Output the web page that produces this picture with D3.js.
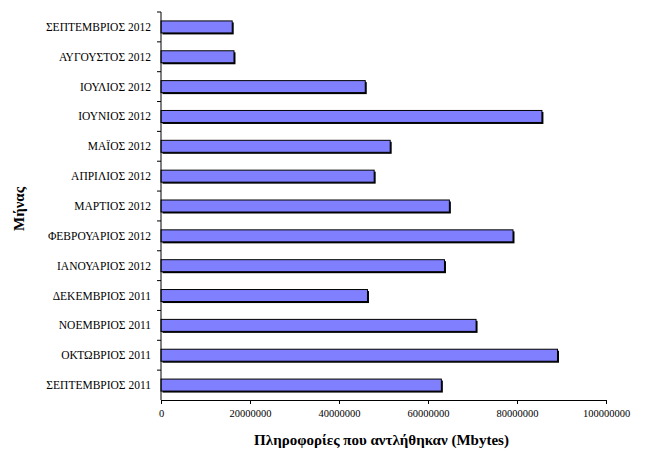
<!DOCTYPE html>
<html>
<head>
<meta charset="utf-8">
<script src="https://cdn.jsdelivr.net/npm/d3@7"></script>
<style>
  body { margin: 0; background: #fff; }
  svg text { font-family: "Liberation Serif", "DejaVu Serif", serif; }
</style>
</head>
<body>
<svg id="chart" width="650" height="475"></svg>
<script>
// months from bottom to top of the chart
const months = [
  "ΣΕΠΤΕΜΒΡΙΟΣ 2011", "ΟΚΤΩΒΡΙΟΣ 2011", "ΝΟΕΜΒΡΙΟΣ 2011", "ΔΕΚΕΜΒΡΙΟΣ 2011",
  "ΙΑΝΟΥΑΡΙΟΣ 2012", "ΦΕΒΡΟΥΑΡΙΟΣ 2012", "ΜΑΡΤΙΟΣ 2012", "ΑΠΡΙΛΙΟΣ 2012",
  "ΜΑΪΟΣ 2012", "ΙΟΥΝΙΟΣ 2012", "ΙΟΥΛΙΟΣ 2012", "ΑΥΓΟΥΣΤΟΣ 2012", "ΣΕΠΤΕΜΒΡΙΟΣ 2012"
];
const mbytes = [
  63000000, 89100000, 70800000, 46400000,
  63700000, 79100000, 64800000, 47900000,
  51500000, 85600000, 45900000, 16400000, 16000000
];
const xTicks = [0, 20000000, 40000000, 60000000, 80000000, 100000000];

const serif = "'Liberation Serif', 'DejaVu Serif', serif";
const svg = d3.select("svg#chart");
const margins = { top: 12, right: 44, bottom: 75, left: 161 };
const chartWidth = 650 - margins.left - margins.right;
const chartHeight = 475 - margins.top - margins.bottom;

const data = months.map((m, i) => ({ month: m, value: mbytes[i] }));

let xScale = d3.scaleLinear().domain([0, 100000000]).range([0, chartWidth]);
let yScale = d3.scaleBand().domain(months).range([chartHeight, 0]);

let chart = svg.append("g").attr("transform", `translate(${margins.left},${margins.top})`);

const barH = 12;
// shadow behind each bar
chart.selectAll("rect.shadow").data(data).enter().append("rect")
  .attr("class", "shadow")
  .attr("x", 1.5)
  .attr("y", d => yScale(d.month) + (yScale.bandwidth() - barH) / 2 + 1.5)
  .attr("width", d => xScale(d.value))
  .attr("height", barH)
  .attr("fill", "#000");

chart.selectAll("rect.bar").data(data).enter().append("rect")
  .attr("class", "bar")
  .attr("x", 0)
  .attr("y", d => yScale(d.month) + (yScale.bandwidth() - barH) / 2)
  .attr("width", d => xScale(d.value))
  .attr("height", barH)
  .attr("fill", "#8080ff")
  .attr("stroke", "#000")
  .attr("stroke-width", 1);

// y axis: ticks at band boundaries
let yAxis = chart.append("g").attr("class", "y axis");
yAxis.append("line").attr("x1", 0).attr("x2", 0).attr("y1", 0).attr("y2", chartHeight)
  .attr("stroke", "#000");
yAxis.selectAll("line.tick").data(months).enter().append("line")
  .attr("class", "tick")
  .attr("x1", -4).attr("x2", 0)
  .attr("y1", d => yScale(d)).attr("y2", d => yScale(d))
  .attr("stroke", "#000");
yAxis.selectAll("text").data(months).enter().append("text")
  .text(d => d)
  .attr("x", -10)
  .attr("y", d => yScale(d) + yScale.bandwidth() / 2 + 4)
  .attr("text-anchor", "end")
  .style("font-family", serif)
  .style("font-size", "11.5px");

// x axis
let xAxis = d3.axisBottom(xScale).tickValues(xTicks).tickSize(4).tickSizeOuter(0).tickPadding(6)
  .tickFormat(d3.format("d"));
chart.append("g").attr("class", "x axis")
  .attr("transform", `translate(0,${chartHeight})`)
  .call(xAxis)
  .call(g => g.selectAll("text").style("font-family", serif).style("font-size", "10.5px"))
  .call(g => g.select(".domain").attr("stroke", "#000"));

svg.append("text")
  .text("Μήνας")
  .attr("transform", "rotate(-90,21,209)")
  .attr("x", 21).attr("y", 209)
  .attr("text-anchor", "middle")
  .attr("dominant-baseline", "middle")
  .style("font-family", serif)
  .style("font-weight", "bold")
  .style("font-size", "15px");

svg.append("text")
  .text("Πληροφορίες που αντλήθηκαν (Mbytes)")
  .attr("x", margins.left + chartWidth / 2 - 2)
  .attr("y", 445)
  .attr("text-anchor", "middle")
  .style("font-family", serif)
  .style("font-weight", "bold")
  .style("font-size", "15px");
</script>
</body>
</html>
